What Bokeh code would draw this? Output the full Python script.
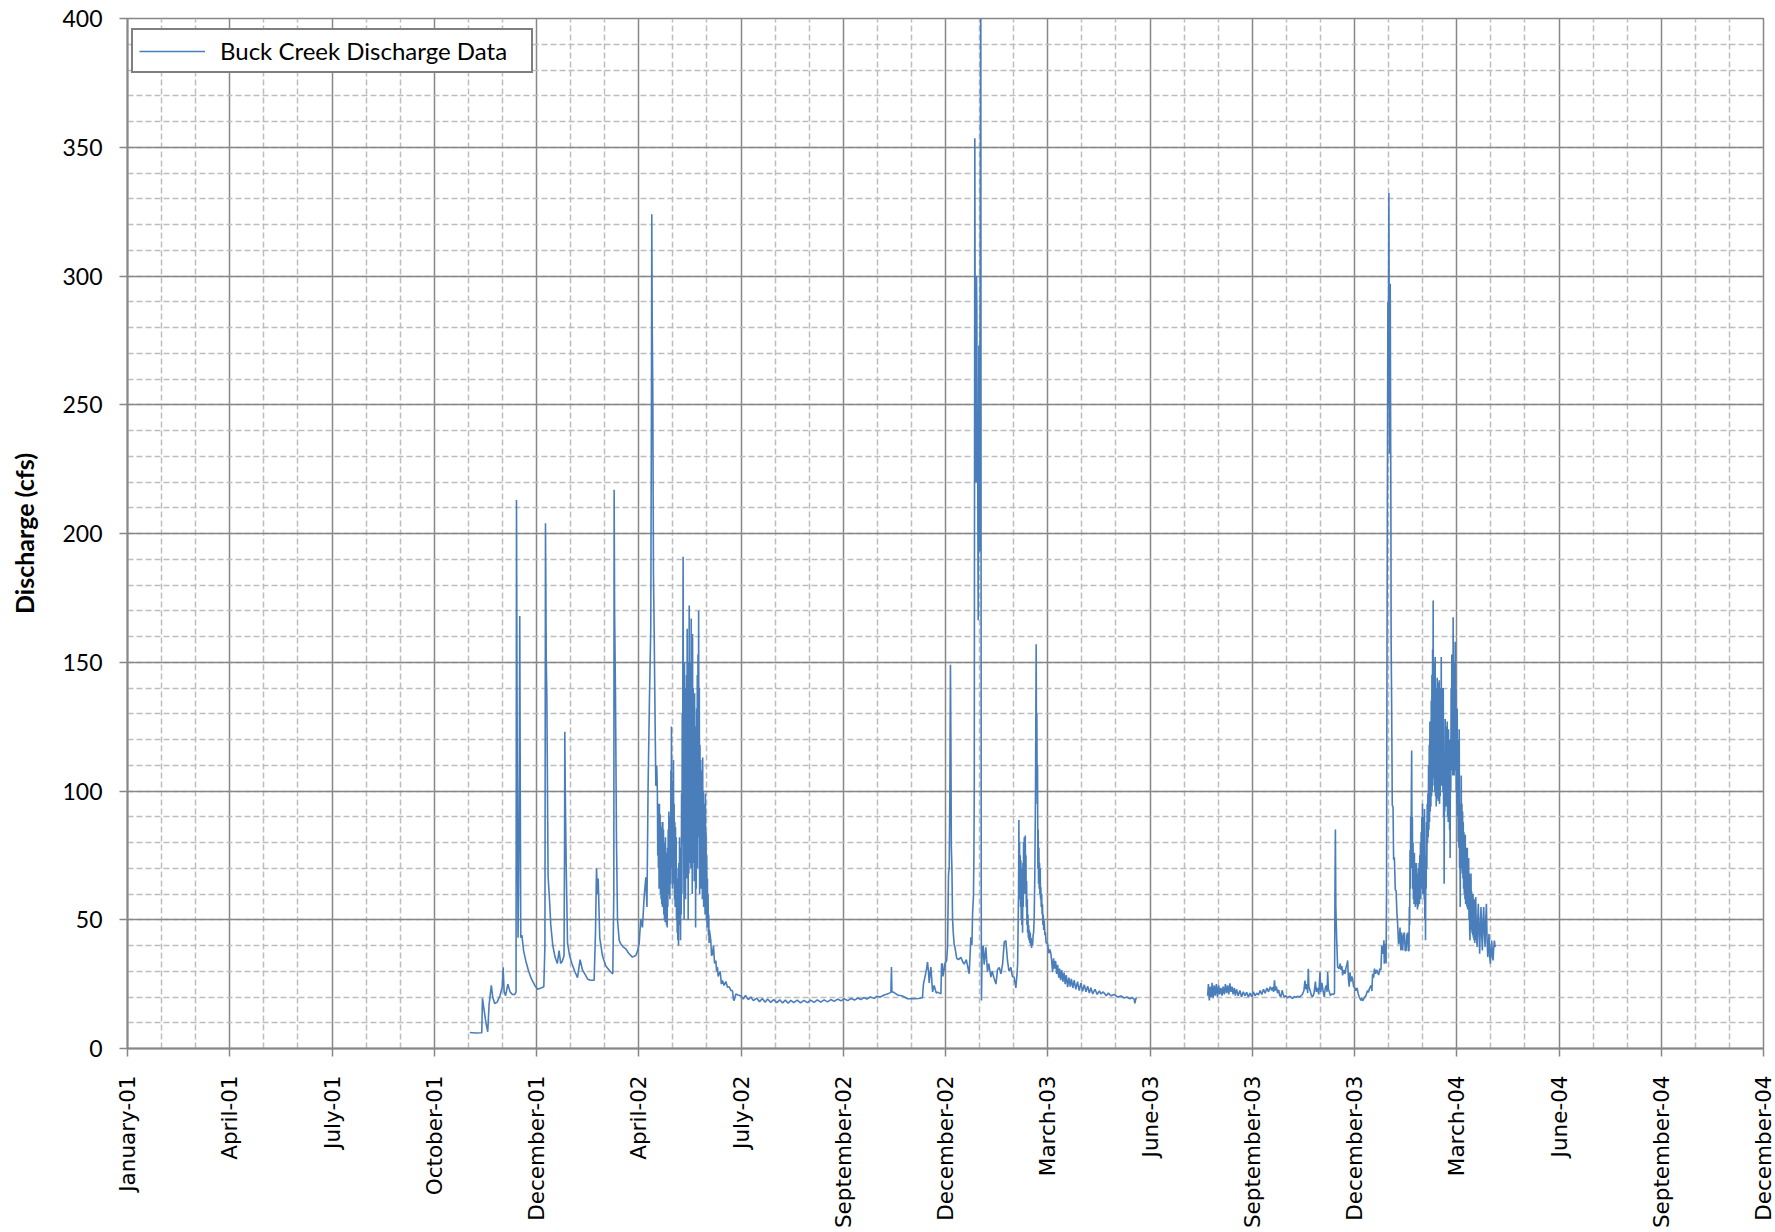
import numpy as np
import pandas as pd
from bokeh.plotting import figure
from bokeh.models import (ColumnDataSource, Range1d, FixedTicker, SingleIntervalTicker,
                          Legend, LegendItem)
from bokeh.embed import file_html
from bokeh.resources import INLINE

# ---------------- data ----------------
START = pd.Timestamp("2001-01-01")
TICK_STEP_DAYS = 91
tick_labels = ["January-01", "April-01", "July-01", "October-01", "December-01",
               "April-02", "July-02", "September-02", "December-02", "March-03",
               "June-03", "September-03", "December-03", "March-04", "June-04",
               "September-04", "December-04"]
y_max = 400
series_name = "Buck Creek Discharge Data"

# (days since 2001-01-01, discharge cfs)
record_2001_2002 = [
    (304.6, 6.2), (310.0, 6.0), (315.3, 6.1), (315.9, 19.5), (317.5, 14.5), (319.0, 10.0),
    (320.6, 6.5), (321.8, 17.0), (323.8, 24.5), (325.0, 20.0), (326.8, 17.5), (329.0, 18.0),
    (331.5, 20.5), (333.5, 24.0), (334.3, 31.5), (335.2, 22.0), (336.5, 20.5), (338.5, 25.0),
    (340.5, 22.0), (342.5, 21.0), (344.7, 21.0), (345.8, 22.0), (346.2, 213.0), (346.6, 150.0),
    (347.0, 90.0), (347.6, 43.0), (348.0, 60.0), (348.3, 76.0), (348.8, 120.0), (349.1, 168.0),
    (349.5, 110.0), (350.0, 43.0), (351.0, 44.0), (352.5, 38.0), (354.5, 34.0), (357.0, 30.0),
    (359.5, 27.0), (362.5, 24.5), (365.0, 23.0), (368.0, 23.5), (370.5, 24.0), (371.5, 40.0),
    (372.0, 204.0), (372.7, 150.0), (373.2, 137.0), (374.3, 67.0), (375.8, 56.0), (376.7, 48.0),
    (378.5, 40.0), (380.5, 35.5), (382.5, 33.0), (384.1, 38.0), (385.5, 33.0), (387.0, 34.0),
    (388.5, 36.0), (389.0, 80.0), (389.2, 123.0), (389.6, 100.0), (390.4, 72.0), (391.6, 41.0),
    (393.5, 36.0), (395.5, 33.0), (398.0, 30.0), (400.5, 27.5), (402.8, 34.5), (404.9, 30.5),
    (407.0, 29.0), (409.4, 27.0), (412.0, 26.5), (415.3, 26.5), (416.5, 45.0), (417.4, 70.0),
    (418.2, 60.0), (418.9, 66.0), (420.3, 43.0), (422.7, 36.0), (425.7, 32.0), (429.5, 30.0),
    (431.9, 29.0), (432.8, 60.0), (433.1, 217.0), (433.5, 170.0), (434.3, 137.0), (435.2, 80.0),
    (436.1, 50.0), (437.6, 42.0), (439.0, 40.6), (441.0, 39.5), (443.5, 38.7), (446.0, 37.0),
    (449.4, 35.5), (452.4, 36.1), (454.0, 38.0), (455.3, 40.6), (456.8, 50.3), (458.3, 47.0),
    (459.8, 58.8), (461.3, 66.5), (462.3, 55.0), (463.3, 101.5), (464.5, 135.0), (465.7, 163.6),
    (466.3, 250.0), (466.6, 324.0), (467.0, 280.0), (467.5, 255.0), (468.1, 184.0), (468.7, 163.0),
    (469.3, 137.0), (470.2, 102.0), (471.0, 110.0),
    (471.6, 99), (471.9, 75), (472.2, 95), (472.5, 70), (472.8, 88), (473.1, 62), (473.4, 95),
    (473.7, 68), (474.0, 91), (474.3, 60), (474.6, 88), (474.9, 58), (475.2, 84), (475.5, 56),
    (475.8, 86), (476.1, 55), (476.4, 88), (476.7, 60), (477.0, 85), (477.3, 52), (477.6, 80),
    (477.9, 50), (478.2, 78), (478.5, 49), (478.8, 82), (479.1, 52), (479.4, 76), (479.7, 48),
    (480.0, 74), (480.3, 47), (480.6, 78), (480.9, 55), (481.2, 85), (481.5, 60), (481.8, 92),
    (482.1, 62), (482.4, 86), (482.7, 58), (483.0, 90), (483.3, 64), (483.6, 108), (483.9, 70),
    (484.1, 125), (484.4, 72), (484.7, 100), (485.0, 62), (485.3, 104), (485.6, 66), (485.9, 112),
    (486.2, 64), (486.5, 95), (486.8, 58), (487.1, 88), (487.4, 55), (487.7, 86), (488.0, 57),
    (488.3, 82), (488.6, 50), (488.9, 70), (489.2, 45), (489.5, 66), (489.8, 42), (490.1, 60),
    (490.4, 40), (490.7, 72), (491.0, 48), (491.3, 82), (491.6, 50), (491.9, 70), (492.2, 42),
    (492.5, 78), (492.8, 52), (493.1, 99), (493.4, 60), (493.7, 130), (494.0, 80), (494.2, 144),
    (494.5, 191), (494.8, 110), (495.1, 70), (495.4, 50),
    (495.7, 150), (496.0, 62), (496.3, 140), (496.6, 58), (496.9, 128), (497.2, 70), (497.5, 145),
    (497.8, 66), (498.1, 163), (498.4, 75), (498.7, 120), (499.0, 50), (499.3, 150), (499.6, 68),
    (499.9, 172), (500.2, 80), (500.5, 135), (500.8, 72), (501.1, 150), (501.4, 70), (501.7, 167),
    (502.0, 78), (502.3, 125), (502.6, 60), (502.9, 161), (503.2, 85), (503.5, 140), (503.8, 72),
    (504.1, 120), (504.4, 65), (504.7, 138), (505.0, 80), (505.3, 125), (505.6, 47), (505.9, 118),
    (506.2, 62), (506.5, 132), (506.8, 75), (507.1, 145), (507.4, 70), (507.7, 153), (508.0, 82),
    (508.3, 170), (508.6, 90), (508.9, 140), (509.2, 60), (509.5, 118), (509.8, 68), (510.1, 112),
    (510.4, 62), (510.7, 105), (511.0, 66), (511.3, 108), (511.6, 58), (511.9, 113), (512.2, 64),
    (512.5, 100), (512.8, 55), (513.1, 92), (513.4, 60), (513.7, 95), (514.0, 52), (514.3, 99),
    (514.6, 55), (514.9, 84), (515.2, 50), (515.5, 75), (515.8, 47), (516.1, 66), (516.4, 48),
    (516.7, 60), (517.0, 44), (517.3, 52), (517.6, 41), (517.9, 46), (518.5, 44),
    (519.1, 42.0), (519.8, 36.0), (520.6, 36.7), (521.5, 40.0), (522.5, 33.0), (523.6, 34.2),
    (524.3, 30.0), (525.0, 31.6), (525.7, 28.0), (526.5, 29.0), (527.5, 30.0), (528.5, 25.0),
    (529.5, 26.4), (531.0, 24.5), (532.5, 26.0), (534.0, 23.8), (535.5, 24.0), (537.0, 22.5),
    (538.4, 22.5), (539.3, 19.0), (539.9, 18.6), (541.4, 21.2), (543.0, 20.8),
]

record_2002_2003 = [
    (545.8, 20.5), (548.0, 19.2), (550.0, 20.6), (552.5, 19.0), (554.7, 20.0), (557.0, 18.6),
    (560.0, 19.6), (562.5, 18.2), (565.0, 19.4), (567.5, 18.0), (569.6, 19.2), (572.5, 17.9),
    (575.0, 19.0), (578.0, 17.8), (580.5, 18.9), (583.0, 17.7), (585.5, 18.8), (588.0, 17.6),
    (590.3, 18.7), (593.0, 17.8), (596.0, 18.8), (599.0, 17.7), (602.0, 18.7), (605.2, 17.8),
    (608.0, 18.8), (611.0, 17.9), (614.0, 18.9), (617.0, 18.0), (620.0, 18.9), (623.0, 18.1),
    (626.0, 19.0), (629.0, 18.3), (632.0, 19.2), (635.0, 18.5), (637.8, 19.3), (641.0, 18.6),
    (644.0, 19.4), (647.0, 18.8), (650.0, 19.6), (652.6, 19.0), (655.5, 19.8), (658.0, 19.2),
    (661.0, 20.0), (664.5, 19.5), (667.0, 20.3), (670.0, 20.0), (673.4, 20.8), (676.0, 21.2),
    (677.9, 21.5), (679.4, 21.8), (679.9, 31.6), (680.3, 22.0), (682.0, 21.8), (685.3, 20.8),
    (689.7, 20.4), (694.2, 19.3), (700.1, 19.3), (704.0, 19.4), (707.5, 19.7), (708.4, 25.1),
    (709.7, 27.7), (711.2, 31.0), (712.0, 33.6), (712.8, 30.0), (713.5, 25.5), (714.2, 29.0),
    (715.0, 31.6), (716.5, 22.0), (717.9, 24.5), (719.8, 21.5), (720.9, 21.9), (723.9, 21.2),
    (724.5, 32.8), (725.3, 32.9), (725.7, 28.0), (726.8, 30.5), (727.5, 33.0), (729.0, 34.1),
    (729.8, 39.3), (730.7, 67.8), (731.3, 70.0), (731.9, 100.0), (732.4, 149.0), (732.8, 120.0),
    (733.2, 78.0), (733.7, 70.0), (734.3, 50.0), (734.9, 45.0), (735.8, 40.0), (736.4, 39.3),
    (738.0, 35.0), (739.5, 34.5), (741.7, 35.4), (743.5, 33.5), (744.7, 32.8), (746.5, 34.5),
    (747.6, 32.2), (749.1, 29.0), (750.6, 43.2), (751.5, 40.0), (752.1, 52.3), (752.9, 59.3),
    (753.3, 75.6), (753.6, 100.0), (753.9, 250.0), (754.1, 353.5), (754.4, 280.0), (754.7, 250.0),
    (755.0, 230.0), (755.3, 219.8), (755.6, 300.0), (755.9, 287.0), (756.2, 220.0), (756.5, 246.0),
    (757.1, 166.3), (757.4, 230.0), (757.7, 273.0), (758.0, 240.0), (758.3, 193.0), (758.6, 260.0),
    (758.9, 300.0), (759.2, 380.0), (759.4, 430.0), (759.6, 250.0), (759.8, 60.0), (760.0, 18.6),
    (760.5, 35.0), (760.9, 37.9), (761.5, 40.0), (762.4, 32.6), (763.2, 36.0), (763.9, 39.3),
    (764.7, 34.0), (765.4, 29.8), (766.5, 33.0), (768.4, 27.7), (769.5, 30.0), (771.3, 27.2),
    (772.9, 25.0), (774.3, 30.6), (775.8, 31.5), (777.3, 29.0), (778.8, 32.8), (780.3, 41.3),
    (781.7, 41.9), (783.2, 34.0), (784.5, 30.0), (786.2, 31.5), (787.5, 28.0), (789.1, 27.7),
    (790.6, 23.5), (791.5, 28.0), (792.2, 32.8),
    (793.0, 60), (793.3, 88.7), (793.6, 62), (793.9, 80), (794.2, 58), (794.5, 75), (794.8, 55),
    (795.1, 73), (795.4, 50), (795.7, 70), (796.0, 48), (796.3, 66), (796.6, 45), (796.9, 72),
    (797.2, 55), (797.5, 80), (797.8, 60), (798.1, 82), (798.4, 62), (798.7, 78), (799.0, 82.7),
    (799.3, 60), (799.6, 75), (799.9, 55), (800.2, 65), (800.5, 48), (800.8, 58), (801.1, 45),
    (801.4, 52), (801.7, 43), (802.0, 48), (802.3, 42), (802.6, 46), (803.0, 41), (803.4, 45),
    (803.8, 40), (804.2, 43), (804.6, 39), (805.0, 42), (805.5, 40), (806.0, 44), (806.4, 45),
    (806.9, 50), (807.5, 68), (808.1, 100), (808.7, 157), (809.0, 110), (809.3, 130), (809.6, 95),
    (809.9, 110), (810.2, 70), (810.5, 85), (810.8, 64), (811.1, 78), (811.4, 62), (811.7, 72),
    (812.0, 60), (812.3, 70), (812.6, 58), (812.9, 62.6), (813.2, 55), (813.6, 60), (814.0, 52),
    (814.3, 56), (814.7, 48), (815.0, 52), (815.4, 46), (815.9, 49.7), (816.5, 44), (817.0, 45),
    (817.5, 41), (818.3, 41.0),
    (818.9, 40.6), (820.0, 37.0), (821.0, 38.5), (821.8, 36.7), (822.5, 34.0), (823.3, 29.6),
    (824.2, 35.0), (825.0, 31.0), (826.0, 34.0), (826.9, 29.0), (827.8, 32.5), (828.8, 27.5),
    (829.6, 31.0), (830.5, 26.5), (831.5, 30.5), (832.5, 26.0), (833.5, 29.5), (834.5, 25.0),
    (835.5, 28.5), (836.7, 23.8), (837.8, 27.5), (839.0, 24.0), (840.0, 27.0), (841.3, 23.5),
    (842.5, 26.5), (844.0, 23.0), (845.5, 26.0), (847.0, 22.5), (848.5, 25.4), (850.0, 22.2),
    (851.5, 24.8), (853.0, 22.0), (854.5, 24.2), (856.0, 21.5), (857.4, 23.6), (859.0, 21.2),
    (861.0, 23.0), (863.0, 21.0), (865.0, 22.4), (866.3, 21.2), (868.5, 22.0), (871.0, 20.5),
    (873.0, 21.5), (875.2, 20.5), (878.1, 21.0), (881.0, 20.0), (884.2, 20.4), (887.0, 19.6),
    (889.5, 20.0), (892.0, 19.3), (894.0, 19.8), (895.9, 19.2), (896.5, 17.5), (897.5, 19.5),
    (898.3, 19.4),
]

record_2003_2004 = [
    (961.3, 20.5), (962.0, 25.0), (962.8, 18.7), (963.6, 24.0), (964.5, 20.0), (965.3, 25.5),
    (966.2, 19.5), (967.2, 24.5), (968.1, 20.5), (969.1, 25.0), (970.1, 20.0), (971.1, 24.5),
    (972.1, 21.0), (973.1, 23.5), (974.1, 20.5), (975.1, 24.0), (976.1, 21.0), (977.1, 25.0),
    (978.1, 21.5), (979.1, 24.5), (980.1, 21.0), (981.1, 25.3), (982.0, 22.0), (983.0, 24.0),
    (984.0, 21.0), (985.0, 23.5), (986.0, 20.5), (987.0, 23.0), (988.5, 20.5), (990.0, 22.5),
    (991.5, 20.0), (993.0, 22.0), (994.5, 20.5), (996.0, 21.8), (997.5, 20.0), (999.0, 21.5),
    (1000.5, 20.0), (1002.0, 22.0), (1003.5, 20.5), (1005.0, 21.5), (1006.5, 20.8), (1008.0, 22.5),
    (1009.5, 21.0), (1011.0, 23.0), (1012.5, 21.5), (1014.0, 23.5), (1015.5, 22.0), (1017.0, 24.0),
    (1018.3, 22.5), (1019.1, 23.8), (1020.0, 22.0), (1020.8, 26.5), (1021.5, 22.5), (1022.5, 24.0),
    (1023.5, 21.5), (1024.5, 22.8), (1025.5, 20.5), (1026.5, 20.2), (1027.6, 22.6), (1028.5, 21.0),
    (1029.5, 20.0), (1031.0, 20.5), (1032.5, 19.6), (1034.0, 20.3), (1035.4, 20.0), (1037.0, 19.4),
    (1038.5, 20.2), (1040.0, 19.8), (1041.4, 20.3), (1043.0, 20.0), (1044.3, 20.4), (1045.8, 21.2),
    (1047.0, 22.5), (1047.9, 26.4), (1048.7, 23.0), (1049.7, 25.0), (1050.3, 21.5), (1050.9, 31.0),
    (1051.4, 24.0), (1052.5, 22.5), (1053.5, 20.8), (1054.7, 20.0), (1056.0, 21.5), (1057.2, 26.0),
    (1058.0, 22.0), (1059.0, 23.5), (1060.2, 21.0), (1061.3, 29.7), (1062.0, 22.0), (1063.0, 25.5),
    (1064.0, 22.5), (1065.1, 20.0), (1066.0, 23.5), (1067.0, 24.5), (1067.6, 22.0), (1068.1, 29.7),
    (1068.8, 23.0), (1069.6, 22.0), (1070.5, 20.6), (1072.0, 21.2), (1073.5, 21.0), (1074.2, 21.6),
    (1074.6, 60.0), (1075.0, 85.0), (1075.4, 55.0), (1076.1, 42.7), (1077.0, 31.6), (1078.4, 31.0),
    (1079.3, 33.0), (1080.0, 30.5), (1080.8, 32.0), (1081.4, 28.4), (1082.5, 30.5), (1083.5, 29.0),
    (1084.5, 31.5), (1085.5, 33.0), (1085.9, 34.2), (1086.6, 27.0), (1087.3, 24.0), (1088.0, 29.6),
    (1088.8, 26.0), (1089.6, 28.0), (1090.3, 27.0), (1091.2, 24.0), (1091.8, 24.0), (1093.3, 22.5),
    (1094.3, 23.5), (1095.3, 21.3), (1096.2, 20.0), (1097.7, 18.7), (1098.5, 19.5), (1099.2, 18.5),
    (1100.5, 19.5), (1102.2, 20.6), (1103.6, 22.5), (1104.5, 21.8), (1105.2, 23.2), (1106.7, 24.5),
    (1107.5, 22.3), (1108.1, 29.0), (1109.0, 27.5), (1109.8, 31.0), (1110.8, 29.0), (1111.7, 30.5),
    (1112.6, 29.7), (1113.5, 28.5), (1114.5, 31.0), (1115.5, 30.5), (1116.3, 40.0), (1117.0, 38.0),
    (1117.6, 36.8), (1118.2, 42.0), (1118.5, 32.9), (1119.2, 38.0), (1119.7, 40.7), (1120.1, 33.0),
    (1120.5, 60.0), (1120.9, 148.6), (1121.3, 220.0), (1121.7, 290.0), (1122.0, 250.0),
    (1122.6, 332.2), (1122.9, 280.0), (1123.2, 231.0), (1123.5, 270.0), (1123.8, 297.0),
    (1124.1, 250.0), (1124.4, 207.5), (1124.6, 158.5), (1125.0, 136.9), (1125.4, 110.0),
    (1125.6, 94.5), (1126.3, 93.7), (1126.8, 73.3), (1127.5, 74.3), (1128.3, 61.6), (1129.0, 61.4),
    (1129.8, 52.2), (1130.4, 48.4), (1131.2, 40.4), (1131.9, 42.0), (1132.5, 47.0), (1133.3, 38.1),
    (1133.9, 45.0), (1134.9, 38.1), (1135.6, 44.0), (1136.4, 45.0), (1137.1, 38.0), (1137.9, 38.1),
    (1138.6, 44.0), (1139.3, 45.0), (1139.9, 38.0),
    (1140.5, 38), (1140.8, 55), (1141.1, 48), (1141.4, 77), (1141.7, 62), (1142.0, 90),
    (1142.3, 70), (1142.6, 100), (1142.9, 115.7), (1143.2, 75), (1143.5, 90), (1143.8, 62),
    (1144.1, 80), (1144.4, 58), (1144.7, 74), (1145.0, 56), (1145.3, 76), (1145.6, 60),
    (1145.9, 72), (1146.2, 55), (1146.5, 70), (1146.8, 57), (1147.1, 72), (1147.4, 56),
    (1147.7, 68), (1148.0, 54), (1148.3, 66), (1148.6, 55), (1148.9, 70), (1149.2, 58),
    (1149.5, 72), (1149.8, 56), (1150.1, 75), (1150.4, 60), (1150.7, 80), (1151.0, 58),
    (1151.3, 84), (1151.6, 62), (1151.9, 90), (1152.2, 64), (1152.5, 95), (1152.8, 60),
    (1153.1, 85), (1153.4, 62), (1153.7, 90), (1154.0, 58), (1154.3, 93), (1154.6, 50),
    (1154.9, 70), (1155.2, 42), (1155.5, 75), (1155.8, 62), (1156.1, 88), (1156.4, 70),
    (1156.7, 95), (1157.0, 80), (1157.3, 99), (1157.6, 82), (1157.9, 110), (1158.2, 85),
    (1158.5, 118), (1158.8, 88), (1159.1, 127), (1159.4, 92), (1159.7, 120), (1160.0, 94),
    (1160.3, 135), (1160.6, 98), (1160.9, 145), (1161.2, 100), (1161.5, 155), (1161.8, 105),
    (1162.0, 174), (1162.3, 110), (1162.6, 150), (1162.9, 102), (1163.2, 145), (1163.5, 100),
    (1163.8, 152), (1164.1, 98), (1164.4, 140), (1164.7, 94), (1165.0, 135), (1165.3, 100),
    (1165.6, 144), (1165.9, 97), (1166.2, 138), (1166.5, 96), (1166.8, 142), (1167.1, 100),
    (1167.4, 143), (1167.7, 95), (1168.0, 130), (1168.3, 98), (1168.6, 140), (1168.9, 104),
    (1169.2, 152), (1169.5, 102), (1169.8, 140), (1170.1, 106), (1170.4, 135), (1170.7, 100),
    (1171.0, 140), (1171.3, 90), (1171.6, 110), (1171.8, 64), (1172.1, 115), (1172.4, 92),
    (1172.7, 128), (1173.0, 96), (1173.3, 122), (1173.6, 94), (1173.9, 125), (1174.2, 96),
    (1174.5, 127), (1174.8, 90), (1175.1, 118), (1175.4, 88), (1175.7, 124), (1176.0, 92),
    (1176.3, 120), (1176.6, 85), (1176.9, 110), (1177.1, 74), (1177.4, 120), (1177.7, 100),
    (1178.0, 140), (1178.3, 108), (1178.6, 153), (1178.9, 110), (1179.2, 145), (1179.5, 106),
    (1179.8, 167.5), (1180.1, 112), (1180.4, 150), (1180.7, 106), (1181.0, 145), (1181.3, 110),
    (1181.6, 158), (1181.9, 108), (1182.2, 140), (1182.5, 100), (1182.8, 130), (1183.1, 95),
    (1183.4, 132), (1183.7, 90), (1184.0, 120), (1184.3, 80), (1184.6, 110), (1184.9, 78),
    (1185.2, 124), (1185.5, 70), (1185.8, 95), (1186.1, 55), (1186.4, 90), (1186.7, 70),
    (1187.0, 106), (1187.3, 72), (1187.6, 95), (1187.9, 68), (1188.2, 92), (1188.5, 66),
    (1188.8, 88), (1189.1, 62), (1189.4, 84), (1189.7, 60), (1190.0, 82), (1190.3, 58),
    (1190.6, 83), (1190.9, 56), (1191.2, 78), (1191.5, 57), (1191.8, 76), (1192.1, 55),
    (1192.4, 78), (1192.7, 54), (1193.0, 72), (1193.3, 55), (1193.6, 74), (1193.9, 50),
    (1194.2, 68), (1194.5, 46), (1194.8, 42), (1195.1, 62), (1195.4, 48), (1195.7, 68),
    (1196.0, 46), (1196.3, 61), (1196.6, 45), (1196.9, 60), (1197.2, 44), (1197.5, 60),
    (1197.8, 43), (1198.1, 58), (1198.4, 42), (1198.7, 57), (1199.0, 41), (1199.3, 58),
    (1199.6, 42), (1199.9, 58.8),
    (1200.5, 45.0), (1201.1, 39.4), (1201.7, 50.0), (1202.2, 56.2), (1202.8, 45.0), (1203.4, 36.8),
    (1204.0, 48.0), (1204.6, 54.9), (1205.2, 44.0), (1205.8, 38.1), (1206.4, 50.0), (1207.0, 54.9),
    (1207.6, 45.0), (1208.2, 39.4), (1208.8, 50.0), (1209.4, 56.2), (1210.0, 42.0), (1210.6, 35.5),
    (1211.2, 40.0), (1211.7, 44.5), (1212.3, 36.0), (1212.9, 32.9), (1213.5, 38.0), (1214.1, 41.9),
    (1214.7, 36.0), (1215.3, 34.2), (1215.9, 39.0), (1216.5, 41.9), (1217.0, 40.0), (1217.4, 39.4),
]

# gauge outage between the 2003 records (the line is broken there)
outage_day = 930.0

# ---------------- build ----------------
day_offset, discharge_cfs = [], []
for seg in (record_2001_2002, record_2002_2003):
    for d, q in seg:
        day_offset.append(d)
        discharge_cfs.append(q)
day_offset.append(outage_day)
discharge_cfs.append(float("nan"))
for d, q in record_2003_2004:
    day_offset.append(d)
    discharge_cfs.append(q)

dates = START + pd.to_timedelta(day_offset, unit="D")
src = ColumnDataSource(dict(date=dates, cfs=discharge_cfs))


def to_ms(ts):
    return int(ts.value // 10**6)


n_ticks = len(tick_labels)
major_ms = [to_ms(START + pd.Timedelta(days=TICK_STEP_DAYS * i)) for i in range(n_ticks)]
minor_ms = []
for i in range(n_ticks - 1):
    for k in (1, 2):
        minor_ms.append(to_ms(START + pd.Timedelta(days=TICK_STEP_DAYS * i + TICK_STEP_DAYS * k / 3.0)))

GRID_MAJOR = "#878787"
GRID_MINOR = "#bdbdbd"

p = figure(width=1775, height=1232, x_axis_type="datetime",
           output_backend="svg", toolbar_location=None,
           x_range=Range1d(major_ms[0], major_ms[-1]), y_range=Range1d(0, y_max),
           min_border_left=127, min_border_right=12, min_border_top=18, min_border_bottom=184)
p.background_fill_color = "white"
p.border_fill_color = "white"
p.outline_line_color = GRID_MAJOR
p.outline_line_width = 1.5

line_r = p.line("date", "cfs", source=src, line_color="#4a7ebb", line_width=1.6)

# x axis
xa = p.xaxis[0]
xa.ticker = FixedTicker(ticks=major_ms, minor_ticks=minor_ms)
xa.major_label_overrides = {ms: lab for ms, lab in zip(major_ms, tick_labels)}
xa.major_label_orientation = np.pi / 2
xa.major_label_text_font = "DejaVu Sans"
xa.major_label_text_font_size = "21.5px"
xa.major_label_text_color = "black"
xa.major_label_standoff = 19
xa.major_tick_out = 8
xa.major_tick_in = 0
xa.major_tick_line_color = GRID_MAJOR
xa.major_tick_line_width = 1.5
xa.minor_tick_line_color = None
xa.axis_line_color = GRID_MAJOR
xa.axis_line_width = 2

# y axis
ya = p.yaxis[0]
ya.ticker = SingleIntervalTicker(interval=50, num_minor_ticks=5)
ya.major_label_text_font = "Lato"
ya.major_label_text_font_size = "23px"
ya.major_label_text_color = "black"
ya.major_label_standoff = 17
ya.major_tick_out = 8
ya.major_tick_in = 0
ya.major_tick_line_color = GRID_MAJOR
ya.major_tick_line_width = 1.5
ya.minor_tick_line_color = None
ya.axis_line_color = GRID_MAJOR
ya.axis_line_width = 2
ya.axis_label = "Discharge (cfs)"
ya.axis_label_text_font = "Lato"
ya.axis_label_text_font_style = "bold"
ya.axis_label_text_font_size = "25px"
ya.axis_label_text_color = "black"
ya.axis_label_standoff = 20

# grids
p.xgrid.grid_line_color = GRID_MAJOR
p.xgrid.grid_line_width = 1.5
p.xgrid.minor_grid_line_color = GRID_MINOR
p.xgrid.minor_grid_line_width = 1.5
p.xgrid.minor_grid_line_dash = "6 3"
p.ygrid.grid_line_color = GRID_MAJOR
p.ygrid.grid_line_width = 1.5
p.ygrid.minor_grid_line_color = GRID_MINOR
p.ygrid.minor_grid_line_width = 1.5
p.ygrid.minor_grid_line_dash = "6 3"

# legend
legend = Legend(items=[LegendItem(label=series_name, renderers=[line_r])],
                location=(4, 975), orientation="vertical",
                border_line_color="black", border_line_width=2,
                background_fill_color="white", background_fill_alpha=1.0,
                padding=6, margin=0, spacing=0,
                glyph_width=66, glyph_height=20, label_standoff=15, label_width=305,
                label_text_font="Lato", label_text_font_size="24px", label_text_color="black")
p.add_layout(legend)

open("out.html", "w").write(file_html(p, INLINE))
